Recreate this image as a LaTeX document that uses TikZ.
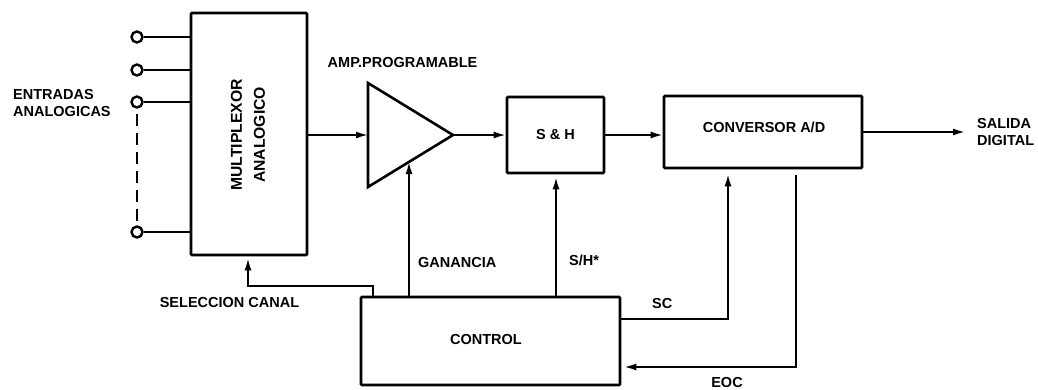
\documentclass[tikz,border=0pt]{standalone}
\usepackage{fontspec}
\setmainfont{Liberation Sans}
\usetikzlibrary{arrows.meta,calc}
\begin{document}
\begin{tikzpicture}[x=1pt,y=-1pt,
  box/.style={draw, line width=2.6pt, rounded corners=1pt, inner sep=0pt},
  lbl/.style={font=\bfseries\fontsize{14.5}{17}\selectfont, inner sep=0pt},
  wire/.style={line width=1.8pt},
  arr/.style={wire, -{Latex[length=12pt,width=7pt]}},
  term/.style={circle, draw, line width=2.4pt, minimum size=11pt, inner sep=0pt}]
\useasboundingbox (0,0) rectangle (1038,389);

% blocks
\node[box, minimum width=116pt, minimum height=242pt] (mux) at (249,134) {};
\node[lbl, rotate=90, align=center, font=\bfseries\fontsize{15.7}{23}\selectfont] (muxt) at (248,135) {MULTIPLEXOR\\ANALOGICO};
\node[box, minimum width=97pt, minimum height=76pt, lbl] (sh) at (555.5,135) {S \& H};
\node[box, minimum width=198pt, minimum height=72pt] (conv) at (763,132) {};
\node[lbl] (convt) at (764,127) {CONVERSOR A/D};
\node[box, minimum width=259pt, minimum height=88pt] (ctrl) at (490.5,341) {};
\node[lbl] (ctrlt) at (486,340) {CONTROL};

% amplifier triangle
\coordinate (t1) at (368,83);
\coordinate (t2) at (368,187);
\coordinate (t3) at (453,135);
\coordinate (tin) at (368,135);
\coordinate (tg) at (409,162);
\draw[line width=2.6pt, line join=miter] (t1) -- (t3) -- (t2) -- cycle;

% input terminals
\node[term] (c1) at (137,37) {};
\node[term] (c2) at (137,70) {};
\node[term] (c3) at (137,102) {};
\node[term] (c4) at (137,232) {};
\foreach \c in {c1,c2,c3,c4}
  \draw[wire] (\c.east) -- (mux.west |- \c);
\draw[wire, dash pattern=on 12pt off 7pt] ($(c3.south)+(0,5)$) -- ($(c4.north)+(0,-3)$);

% signal path
\draw[arr] (mux.east |- tin) -- (tin);
\draw[arr] (t3) -- (sh.west);
\draw[arr] (sh.east) -- (conv.west |- sh.east);
\coordinate (out) at (965,132);
\draw[arr] (conv.east) -- (out);

% control lines
\draw[arr, shorten >=2pt] (ctrl.north -| 373,0) -- (373,286) -- (248,286) -- (mux.south -| 248,0);
\draw[arr] (ctrl.north -| tg) -- (tg);
\draw[arr, shorten >=3pt] (ctrl.north -| 556,0) -- (sh.south -| 556,0);
\draw[arr, shorten >=5pt] (ctrl.east |- 0,319) -- (728,319) -- (conv.south -| 728,0);
\coordinate (eocs) at (796,175);
\draw[arr, shorten >=3pt] (eocs) -- (796,367) -- (ctrl.east |- 0,367);

% labels
\node[lbl, anchor=west, align=left] (ent) at (13,103.5) {ENTRADAS\\ANALOGICAS};
\node[lbl] (sel) at (229.5,303) {SELECCION CANAL};
\node[lbl] (amp) at (402.5,63) {AMP.PROGRAMABLE};
\node[lbl, anchor=west] (gan) at (418,263) {GANANCIA};
\node[lbl, anchor=west] (shl) at (569,260) {S/H*};
\node[lbl, anchor=west] (sc) at (652,304) {SC};
\node[lbl] (eoc) at (727,382) {EOC};
\node[lbl, anchor=west, align=left] (sal) at (977,132.5) {SALIDA\\DIGITAL};
\end{tikzpicture}
\end{document}
